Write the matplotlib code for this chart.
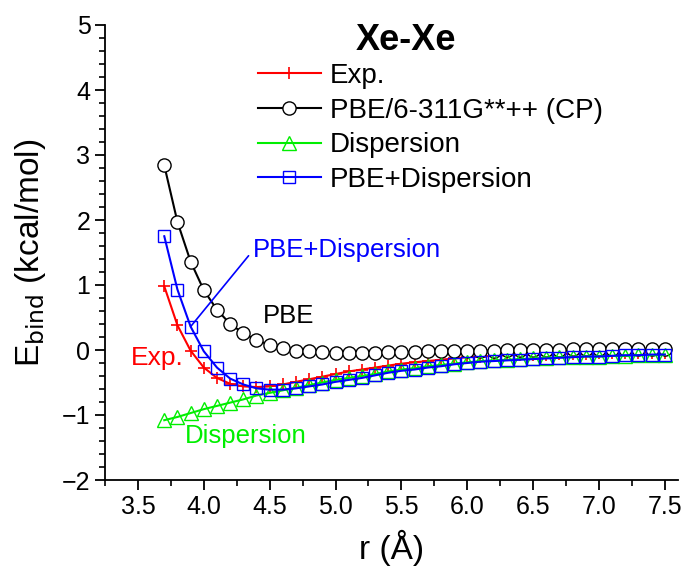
import matplotlib
matplotlib.use("Agg")
import matplotlib.pyplot as plt
import numpy as np
from matplotlib.ticker import MultipleLocator, FormatStrFormatter

plt.rcParams['font.family'] = ['Liberation Sans', 'DejaVu Sans']

# distances (Angstrom) and binding energies (kcal/mol)
r = np.round(np.arange(37, 76) * 0.1, 1)

e_exp = [0.98, 0.38, -0.01, -0.27, -0.43, -0.52, -0.56, -0.57, -0.56, -0.53,
         -0.49, -0.45, -0.41, -0.37, -0.33, -0.30, -0.27, -0.24, -0.21, -0.19,
         -0.17, -0.15, -0.13, -0.11, -0.10, -0.09, -0.08, -0.08, -0.07, -0.07,
         -0.06, -0.06, -0.06, -0.05, -0.05, -0.05, -0.04, -0.04, -0.04]
e_pbe = [2.84, 1.97, 1.36, 0.92, 0.62, 0.40, 0.26, 0.15, 0.08, 0.03,
         -0.01, -0.02, -0.03, -0.04, -0.04, -0.04, -0.04, -0.03, -0.03, -0.03,
         -0.02, -0.02, -0.02, -0.01, -0.01, -0.01, 0.00, 0.00, 0.00, 0.00,
         0.00, 0.01, 0.01, 0.01, 0.01, 0.01, 0.01, 0.01, 0.01]
e_disp = [-1.08, -1.03, -0.97, -0.91, -0.86, -0.81, -0.76, -0.70, -0.66, -0.62,
          -0.58, -0.54, -0.50, -0.46, -0.43, -0.40, -0.37, -0.33, -0.30, -0.28,
          -0.25, -0.23, -0.21, -0.19, -0.17, -0.16, -0.15, -0.14, -0.13, -0.12,
          -0.11, -0.11, -0.10, -0.10, -0.09, -0.09, -0.08, -0.08, -0.07]
e_pbed = [1.75, 0.93, 0.36, -0.02, -0.27, -0.44, -0.53, -0.59, -0.61, -0.61,
          -0.59, -0.56, -0.53, -0.49, -0.46, -0.43, -0.39, -0.35, -0.32, -0.30,
          -0.27, -0.25, -0.22, -0.20, -0.18, -0.17, -0.16, -0.15, -0.14, -0.13,
          -0.12, -0.11, -0.10, -0.10, -0.09, -0.08, -0.08, -0.07, -0.07]

GREEN = "#00ee00"

fig = plt.figure(figsize=(6.88, 5.73), dpi=100)
ax = fig.add_axes([105 / 688, 1 - 480 / 573, 573 / 688, 455 / 573])

lw = 1.5
ax.plot(r, e_exp, "-", color="red", lw=lw, marker="+", ms=9, mew=1.2, label="Exp.")
ax.plot(r, e_pbe, "-", color="black", lw=lw, marker="o", ms=9.5, mfc="white", mew=1.0,
        label="PBE/6-311G**++ (CP)")
ax.plot(r, e_disp, "-", color=GREEN, lw=lw, marker="^", ms=9.5, mfc="none", mew=1.0,
        label="Dispersion")
ax.plot(r, e_pbed, "-", color="blue", lw=lw, marker="s", ms=8.5, mfc="none", mew=1.0,
        label="PBE+Dispersion")

ax.set_xlim(3.25, 7.6)
ax.set_ylim(-2, 5)
ax.xaxis.set_major_locator(MultipleLocator(0.5))
ax.xaxis.set_minor_locator(MultipleLocator(0.25))
ax.yaxis.set_major_locator(MultipleLocator(1))
ax.yaxis.set_minor_locator(MultipleLocator(0.2))
ax.xaxis.set_major_formatter(FormatStrFormatter("%.1f"))
ax.spines["top"].set_visible(False)
ax.spines["right"].set_visible(False)
for s in ("left", "bottom"):
    ax.spines[s].set_linewidth(1.3)
ax.tick_params(which="major", direction="out", length=7, width=1.3, labelsize=18)
ax.tick_params(which="minor", direction="out", length=4, width=1.2)

ax.set_xlabel("r (Å)", fontsize=24, labelpad=8)
ax.set_ylabel(r"E$_{\mathrm{bind}}$ (kcal/mol)", fontsize=24, labelpad=10)

fig.text(406 / 688, 1 - 41 / 573, "Xe-Xe", fontsize=26, fontweight="bold",
         ha="center", va="center")
ax.legend(loc="upper left", bbox_to_anchor=(258 / 688, 1 - 63 / 573),
          bbox_transform=fig.transFigure, frameon=False, fontsize=20,
          handlelength=2.25, handletextpad=0.35, labelspacing=0.31, borderpad=0,
          borderaxespad=0)

ax.text(4.376, 1.54, "PBE+Dispersion", color="blue", fontsize=18.5, va="center")
ax.text(4.45, 0.53, "PBE", color="black", fontsize=18.5, va="center")
ax.text(3.45, -0.12, "Exp.", color="red", fontsize=19, va="center")
ax.text(3.86, -1.33, "Dispersion", color=GREEN, fontsize=18.5, va="center")
ax.annotate("", xy=(3.9, 0.36), xytext=(4.34, 1.45),
            arrowprops=dict(arrowstyle="-", color="blue", lw=1.2, shrinkA=0, shrinkB=0))

fig.savefig("out.png", dpi=100)
